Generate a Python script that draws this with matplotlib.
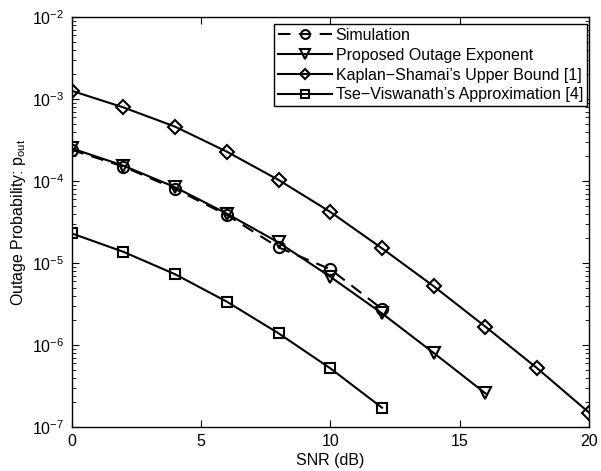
import matplotlib
matplotlib.use("Agg")
import matplotlib.pyplot as plt
import numpy as np

plt.rcParams['font.family'] = ['Liberation Sans', 'DejaVu Sans']
plt.rcParams['mathtext.fontset'] = 'custom'
plt.rcParams['mathtext.rm'] = 'Liberation Sans'
plt.rcParams['mathtext.it'] = 'Liberation Sans'

snr_sim = [0, 2, 4, 6, 8, 10, 12]
p_sim = [2.4e-4, 1.5e-4, 8.0e-5, 3.85e-5, 1.55e-5, 8.4e-6, 2.75e-6]

snr_prop = [0, 2, 4, 6, 8, 10, 12, 14, 16]
p_prop = [2.5e-4, 1.54e-4, 8.4e-5, 4.0e-5, 1.78e-5, 6.8e-6, 2.43e-6, 8.0e-7, 2.57e-7]

snr_ks = [0, 2, 4, 6, 8, 10, 12, 14, 16, 18, 20]
p_ks = [1.26e-3, 7.9e-4, 4.6e-4, 2.28e-4, 1.03e-4, 4.2e-5, 1.51e-5, 5.2e-6, 1.67e-6, 5.2e-7, 1.5e-7]

snr_tv = [0, 2, 4, 6, 8, 10, 12]
p_tv = [2.3e-5, 1.37e-5, 7.3e-6, 3.38e-6, 1.39e-6, 5.2e-7, 1.72e-7]

labels = ["Simulation", "Proposed Outage Exponent",
          "Kaplan\u2212Shamai\u2019s Upper Bound [1]",
          "Tse\u2212Viswanath\u2019s Approximation [4]"]

fig = plt.figure(figsize=(6.01, 4.71), dpi=100)
ax = fig.add_axes([0.119, 0.0934, 0.861, 0.8706])

kw = dict(color='black', markerfacecolor='none', markeredgecolor='black',
          markeredgewidth=1.5, linewidth=1.5)
ax.semilogy(snr_sim, p_sim, linestyle=(0, (6, 4)), marker='o', markersize=8, label=labels[0], **kw)
ax.semilogy(snr_prop, p_prop, linestyle='-', marker='v', markersize=9, label=labels[1], **kw)
ax.semilogy(snr_ks, p_ks, linestyle='-', marker='D', markersize=7, label=labels[2], **kw)
ax.semilogy(snr_tv, p_tv, linestyle='-', marker='s', markersize=7, label=labels[3], **kw)

ax.set_xlim(0, 20)
ax.set_ylim(1e-7, 1e-2)
ax.set_xticks([0, 5, 10, 15, 20])
ax.tick_params(which='both', direction='in', top=True, right=True, labelsize=11.5)
ax.tick_params(which='major', length=5, pad=5)
ax.tick_params(which='minor', length=3)
for s in ax.spines.values():
    s.set_linewidth(1.0)
ax.set_xlabel("SNR (dB)", fontsize=11.5, labelpad=3)
ax.set_ylabel("Outage Probability: p$_{\\mathrm{out}}$", fontsize=11.5, labelpad=3)

leg = ax.legend(loc='upper right', bbox_to_anchor=(0.996, 0.983), fontsize=11.5,
                frameon=True, fancybox=False, edgecolor='black', framealpha=1,
                borderpad=0.25, labelspacing=0.3, handlelength=3.4, handletextpad=0.2,
                borderaxespad=0.0, markerscale=0.8)
leg.get_frame().set_linewidth(1.0)

fig.savefig("out.png", dpi=100)
